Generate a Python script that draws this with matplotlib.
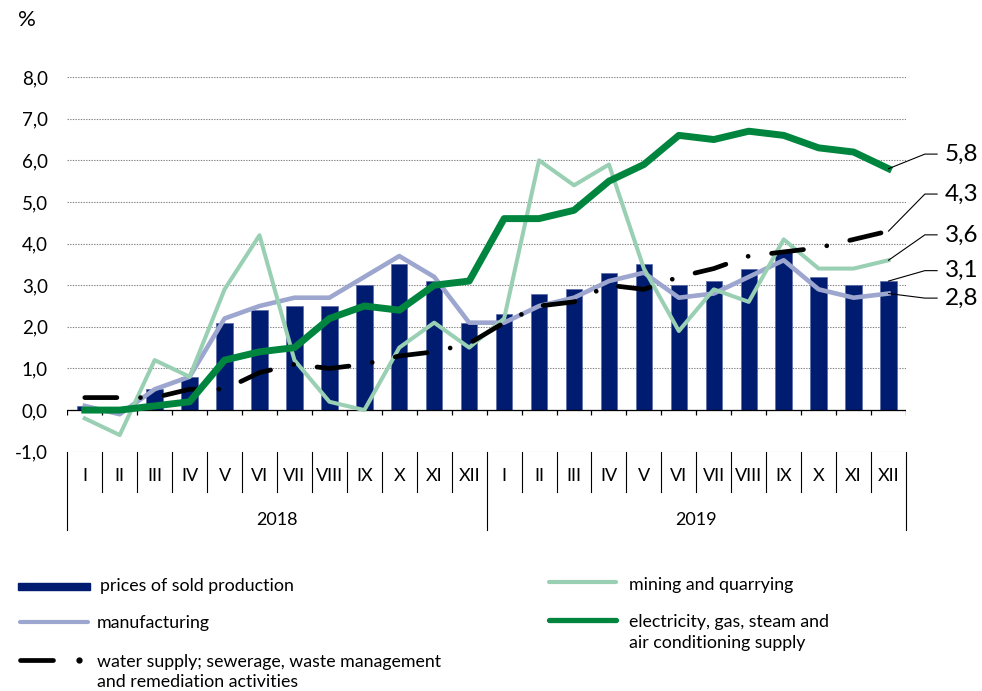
import numpy as np
import matplotlib.pyplot as plt
from matplotlib.patches import Rectangle

plt.rcParams['font.family'] = ['Lato', 'DejaVu Sans']
plt.rcParams['axes.unicode_minus'] = False

# dane
months = ['I', 'II', 'III', 'IV', 'V', 'VI', 'VII', 'VIII', 'IX', 'X', 'XI', 'XII'] * 2
years = ['2018', '2019']
prices = [0.1, 0.0, 0.5, 0.8, 2.1, 2.4, 2.5, 2.5, 3.0, 3.5, 3.1, 2.1,
          2.3, 2.8, 2.9, 3.3, 3.5, 3.0, 3.1, 3.4, 3.8, 3.2, 3.0, 3.1]
manufacturing = [0.1, -0.1, 0.5, 0.8, 2.2, 2.5, 2.7, 2.7, 3.2, 3.7, 3.2, 2.1,
                 2.1, 2.5, 2.7, 3.1, 3.3, 2.7, 2.8, 3.2, 3.6, 2.9, 2.7, 2.8]
mining = [-0.2, -0.6, 1.2, 0.8, 2.9, 4.2, 1.2, 0.2, 0.0, 1.5, 2.1, 1.5,
          2.2, 6.0, 5.4, 5.9, 3.4, 1.9, 2.9, 2.6, 4.1, 3.4, 3.4, 3.6]
electricity = [0.0, 0.0, 0.1, 0.2, 1.2, 1.4, 1.5, 2.2, 2.5, 2.4, 3.0, 3.1,
               4.6, 4.6, 4.8, 5.5, 5.9, 6.6, 6.5, 6.7, 6.6, 6.3, 6.2, 5.8]
water = [0.3, 0.3, 0.3, 0.5, 0.5, 0.9, 1.1, 1.0, 1.1, 1.3, 1.4, 1.6,
         2.1, 2.5, 2.6, 3.0, 2.9, 3.2, 3.4, 3.7, 3.8, 3.9, 4.1, 4.3]

c_bar = '#001C71'
c_man = '#9CA6CE'
c_min = '#99CFB2'
c_ele = '#00853E'
c_wat = 'black'

fig = plt.figure(figsize=(9.82, 6.91), dpi=100)
ax = fig.add_axes([67.3/982, 1-451.7/691, 838.7/982, 374.6/691])

x = np.arange(len(months))
ax.bar(x, prices, width=0.47, color=c_bar, edgecolor='#5A6AA8', linewidth=0.5, zorder=2)
ax.plot(x, manufacturing, color=c_man, lw=3.3, zorder=3)
ax.plot(x, mining, color=c_min, lw=2.9, zorder=3.5)
ax.plot(x, water, color=c_wat, lw=3.4, dashes=(6.8, 5, 0.01, 5), dash_capstyle='round', zorder=4)
ax.plot(x, electricity, color=c_ele, lw=5, zorder=5)

ax.set_xlim(-0.5, 23.5)
ax.set_ylim(-1, 8)
for s in ax.spines.values():
    s.set_visible(False)

yt = np.arange(-1, 9)
ax.set_yticks(yt)
ax.set_yticklabels([f'{v:.1f}'.replace('.', ',') for v in yt])
ax.tick_params(axis='y', length=0, pad=14, labelsize=13.5)
ax.set_xticks([])
ax.yaxis.grid(True, color='#808080', lw=0.8, linestyle=(0, (1.2, 1.2)))
ax.set_axisbelow(True)

# linia zera z kreskami
ax.axhline(0, color='black', lw=0.9, zorder=2.5)
ax.vlines(np.arange(25) - 0.5, -0.13, 0, color='black', lw=0.9, zorder=2.5)

# opisy osi x
tr = ax.get_xaxis_transform()
for k in range(25):
    low = -0.209 if k % 12 == 0 else -0.1076
    ax.plot([k - 0.5, k - 0.5], [0, low], color='black', lw=0.8, transform=tr, clip_on=False)
for i, m in enumerate(months):
    ax.text(i, -0.066, m, transform=tr, ha='center', va='center', fontsize=13)
for j, yr in enumerate(years):
    ax.text(5.5 + 12*j, -0.182, yr, transform=tr, ha='center', va='center', fontsize=13)

fig.text(18/982, 1-20/691, '%', fontsize=16, ha='left', va='center')

# etykiety na koncu serii
ends = [electricity[-1], water[-1], mining[-1], prices[-1], manufacturing[-1]]
label_y = [6.15, 5.19, 4.21, 3.35, 2.69]
for v, ly in zip(ends, label_y):
    ax.plot([23, 24.04, 24.39], [v, ly, ly], color='black', lw=0.8, clip_on=False, zorder=6)
    ax.text(24.62, ly, f'{v:.1f}'.replace('.', ','), fontsize=17.5, ha='left', va='center')

# legenda
lax = fig.add_axes([0, 0, 1, 1])
lax.set_xlim(0, 982)
lax.set_ylim(691, 0)
lax.axis('off')
lax.add_patch(Rectangle((18, 582.5), 72, 7, color=c_bar))
lax.plot([20, 88], [622, 622], color=c_man, lw=3, solid_capstyle='round')
lax.plot([20, 53], [660, 660], color=c_wat, lw=3.4, solid_capstyle='round')
lax.plot([79], [660], 'o', color=c_wat, ms=3.5)
lax.plot([549, 616], [582, 582], color=c_min, lw=3, solid_capstyle='round')
lax.plot([549, 616], [620, 620], color=c_ele, lw=3.8, solid_capstyle='round')
fs = 12.8
lax.text(100, 591.5, 'prices of sold production', fontsize=fs, va='baseline')
lax.text(97, 628, 'manufacturing', fontsize=fs, va='baseline')
lax.text(97, 667, 'water supply; sewerage, waste management', fontsize=fs, va='baseline')
lax.text(97, 687, 'and remediation activities', fontsize=fs, va='baseline')
lax.text(629, 590, 'mining and quarrying', fontsize=fs, va='baseline')
lax.text(629, 627.5, 'electricity, gas, steam and', fontsize=fs, va='baseline')
lax.text(629, 648, 'air conditioning supply', fontsize=fs, va='baseline')

fig.savefig('out.png', dpi=100)
